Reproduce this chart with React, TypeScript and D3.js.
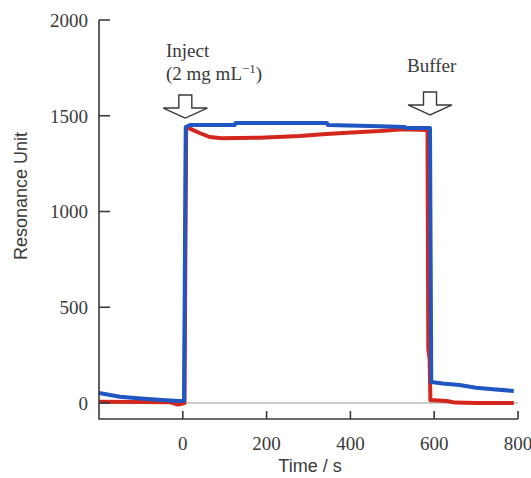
import * as d3 from 'd3'

// Sensorgram: response vs time, two runs
const blueTime  = [-200, -150, -100, -50, -10, 3, 7, 17, 60, 124, 126, 250, 344, 346, 470, 530, 532, 590, 593, 620, 660, 700, 740, 790]
const blueValue = [52, 33, 24, 16, 10, 12, 1440, 1452, 1452, 1452, 1462, 1462, 1462, 1452, 1445, 1441, 1436, 1436, 110, 102, 94, 80, 72, 63]

const redTime  = [-200, -100, -30, -12, -5, 4, 8, 20, 40, 64, 93, 184, 279, 334, 382, 470, 525, 584, 586, 589, 591, 600, 630, 650, 700, 790]
const redValue = [6, 5, 4, -8, -5, 0, 1441, 1430, 1410, 1389, 1383, 1385, 1394, 1404, 1410, 1420, 1430, 1425, 280, 230, 15, 14, 10, 2, 0, 0]

const xTicks = [0, 200, 400, 600, 800]
const yTicks = [0, 500, 1000, 1500, 2000]

// arrows: time of injection / buffer switch, value at arrow tip
const arrowTimes  = [6, 590]
const arrowTips   = [1488, 1504]

const SERIF = '"Liberation Serif", "Times New Roman", serif'
const SANS  = '"Liberation Sans", Arial, sans-serif'
const INK   = '#3a3a3a'
const BLUE  = '#1f56c2'
const RED   = '#d3261c'

export default function App() {
  const W = 531, H = 478

  const x = d3.scaleLinear().domain([-200, 800]).range([99, 518])
  const y = d3.scaleLinear().domain([0, 2000]).range([403, 20])
  const axisY = 419

  const line = d3.line<[number, number]>().x(d => x(d[0])).y(d => y(d[1]))
  const bluePath = line(blueTime.map((t, i) => [t, blueValue[i]])) || ''
  const redPath  = line(redTime.map((t, i) => [t, redValue[i]])) || ''

  const arrow = (t: number, v: number) => {
    const cx = x(t), tip = y(v)
    const hw = 22, hh = 10, sw = 6.5, sh = 13
    return `M${cx},${tip} L${cx - hw},${tip - hh} L${cx - sw},${tip - hh} L${cx - sw},${tip - hh - sh}` +
      ` L${cx + sw},${tip - hh - sh} L${cx + sw},${tip - hh} L${cx + hw},${tip - hh} Z`
  }

  return (
    <svg width={W} height={H} style={{ position: 'absolute', left: 0, top: 0, background: '#fff' }}>
      {/* zero reference */}
      <line x1={x(-200)} x2={x(800)} y1={y(0)} y2={y(0)} stroke="#9a9a9a" strokeWidth={1.2} />

      {/* data */}
      <path d={redPath} fill="none" stroke={RED} strokeWidth={4} strokeLinejoin="round" />
      <path d={bluePath} fill="none" stroke={BLUE} strokeWidth={4} strokeLinejoin="round" />

      {/* axes */}
      <g stroke={INK} strokeWidth={1.6} fill="none">
        <path d={`M${x.range()[0]},${y(2000)} V${axisY} H${x(800)}`} />
        {yTicks.map(v => (
          <line key={v} x1={x.range()[0]} x2={x.range()[0] + 11} y1={y(v)} y2={y(v)} />
        ))}
        {xTicks.map(t => (
          <line key={t} x1={x(t)} x2={x(t)} y1={axisY} y2={axisY - 8} />
        ))}
      </g>

      {yTicks.map(v => (
        <text key={v} x={88} y={y(v)} dy="0.36em" textAnchor="end"
          fontFamily={SERIF} fontSize={19} fill={INK}>{v}</text>
      ))}
      {xTicks.map(t => (
        <text key={t} x={x(t)} y={450} textAnchor="middle"
          fontFamily={SERIF} fontSize={19} fill={INK}>{t}</text>
      ))}

      <text x={310} y={472} textAnchor="middle" fontFamily={SANS} fontSize={18} fill={INK}>Time / s</text>
      <text transform="translate(27,196) rotate(-90)" textAnchor="middle"
        fontFamily={SANS} fontSize={18} fill={INK}>Resonance Unit</text>

      {/* annotations */}
      {arrowTimes.map((t, i) => (
        <path key={t} d={arrow(t, arrowTips[i])} fill="#fff" stroke={INK} strokeWidth={1.4} strokeLinejoin="miter" />
      ))}
      <text x={166} y={57} fontFamily={SERIF} fontSize={19} fill={INK}>Inject</text>
      <text x={166} y={80} fontFamily={SERIF} fontSize={19} fill={INK}>
        (2 mg mL<tspan dy={-7} fontSize={13}>−1</tspan><tspan dy={7}>)</tspan>
      </text>
      <text x={407} y={72} fontFamily={SERIF} fontSize={19} fill={INK}>Buffer</text>
    </svg>
  )
}
